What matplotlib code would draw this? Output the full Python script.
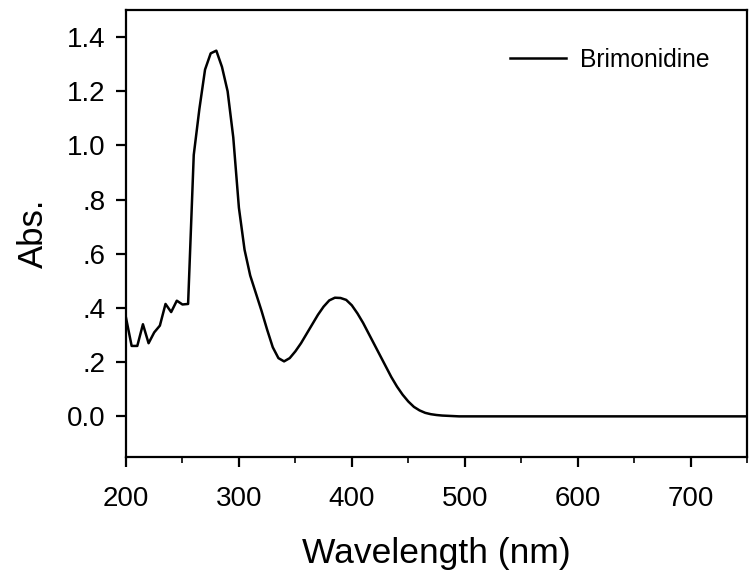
import numpy as np
import matplotlib
matplotlib.use("Agg")
import matplotlib.pyplot as plt
from matplotlib.ticker import MultipleLocator, FixedLocator

plt.rcParams['font.family'] = ['Liberation Sans', 'DejaVu Sans']

wavelength = list(range(200, 755, 5))
absorbance = [
    0.364, 0.26, 0.26, 0.34, 0.27, 0.31, 0.335, 0.415, 0.385, 0.427,
    0.413, 0.415, 0.965, 1.135, 1.28, 1.34, 1.35, 1.29, 1.20, 1.03,
    0.77, 0.615, 0.52, 0.455, 0.39, 0.32, 0.255, 0.215, 0.203, 0.215,
    0.24, 0.27, 0.305, 0.34, 0.375, 0.405, 0.428, 0.438, 0.437, 0.43,
    0.41, 0.38, 0.345, 0.305, 0.265, 0.225, 0.185, 0.145, 0.11, 0.08,
    0.055, 0.035, 0.022, 0.013, 0.008, 0.005, 0.003, 0.002, 0.001, 0.0,
    0.0, 0.0, 0.0, 0.0, 0.0, 0.0, 0.0, 0.0, 0.0, 0.0,
    0.0, 0.0, 0.0, 0.0, 0.0, 0.0, 0.0, 0.0, 0.0, 0.0,
    0.0, 0.0, 0.0, 0.0, 0.0, 0.0, 0.0, 0.0, 0.0, 0.0,
    0.0, 0.0, 0.0, 0.0, 0.0, 0.0, 0.0, 0.0, 0.0, 0.0,
    0.0, 0.0, 0.0, 0.0, 0.0, 0.0, 0.0, 0.0, 0.0, 0.0,
    0.0,
]
series_name = "Brimonidine"
y_ticks = [0.0, 0.2, 0.4, 0.6, 0.8, 1.0, 1.2, 1.4]
y_tick_labels = ["0.0", ".2", ".4", ".6", ".8", "1.0", "1.2", "1.4"]
x_ticks = [200, 300, 400, 500, 600, 700]

fig = plt.figure(figsize=(7.5, 5.76), dpi=100)
ax = fig.add_axes([0.168, 0.2066, 0.828, 0.776])

ax.plot(wavelength, absorbance, color='black', lw=1.8, label=series_name)

ax.set_xlim(200, 750)
ax.set_ylim(-0.15, 1.5)
ax.xaxis.set_major_locator(FixedLocator(x_ticks))
ax.xaxis.set_minor_locator(MultipleLocator(50))
ax.set_yticks(y_ticks)
ax.set_yticklabels(y_tick_labels)

for s in ax.spines.values():
    s.set_linewidth(1.6)

ax.tick_params(axis='both', which='major', direction='out', length=7, width=1.6,
               labelsize=20, top=False, right=False)
ax.tick_params(axis='x', which='major', pad=14)
ax.tick_params(axis='y', which='major', pad=8)
ax.tick_params(axis='x', which='minor', direction='out', length=4, width=1.2, top=False)

ax.set_xlabel("Wavelength (nm)", fontsize=25.5, labelpad=18)
ax.set_ylabel("Abs.", fontsize=25, labelpad=12)

leg = ax.legend(loc='upper right', frameon=False, fontsize=17.7,
                handlelength=2.28, handletextpad=0.57, borderaxespad=0,
                bbox_to_anchor=(0.955, 0.938))

fig.savefig("out.png", dpi=100)
